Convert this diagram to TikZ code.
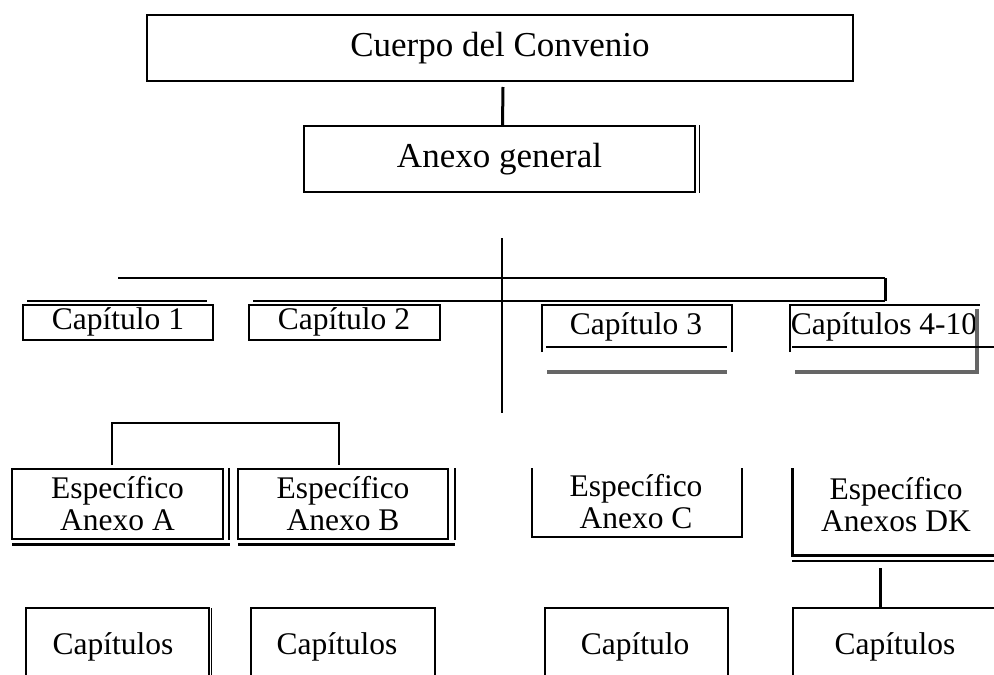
\documentclass[tikz,border=0pt]{standalone}
\usepackage{fontspec}
\setmainfont{Liberation Serif}
\usepackage{tikz}

\begin{document}
\begin{tikzpicture}[x=1pt,y=-1pt,
box/.style={draw,line width=2pt},
frame/.style={line width=2pt},
heavy/.style={line width=3pt},
shade/.style={line width=3.5pt,black!60}]
\tikzstyle{every node}=[inner sep=0pt,align=center,font=\fontsize{31.5}{32}\selectfont]
\useasboundingbox (0,0) rectangle (994,675);

\node[box,minimum width=706pt,minimum height=66pt,font=\fontsize{35}{36}\selectfont] (cuerpo) at (500,48) {Cuerpo del Convenio};
\node[box,minimum width=391pt,minimum height=66pt,font=\fontsize{35}{36}\selectfont] (general) at (499.5,159) {Anexo general};
\draw[heavy] ([xshift=3pt,yshift=-5pt]cuerpo.south) -- ([xshift=3pt]general.north);
\draw[line width=0.6pt] ([xshift=3pt]general.north east) -- ([xshift=3pt]general.south east);

\node[box,minimum width=190pt,minimum height=35pt] (cap1) at (118,322) {Cap\'{\i}tulo 1};
\node[box,minimum width=191pt,minimum height=35pt] (cap2) at (344,322) {Cap\'{\i}tulo 2};
\node (cap3) at (636,327) {Cap\'{\i}tulo 3};
\node (cap4) at (884,327) {Cap\'{\i}tulos 4-10};

\coordinate (hubtop) at (502,238);
\coordinate (hubbot) at (502,413);
\draw[frame] (118,278) -- (885,278);
\draw[heavy] (885,278) -- (885,301);
\draw[frame] (27,301) -- (207,301);
\draw[frame] (253,301) -- (885,301);
\draw[line width=2.2pt] (hubtop) -- (hubbot);

\draw[shade] (547,372) -- (727,372);
\draw[frame] (542,352) -- (542,305) -- (732,305) -- (732,352);
\draw[line width=1.5pt] (546,347) -- (727,347);
\draw[shade] (977,309) -- (977,372) -- (795,372);
\draw[frame] (790,352) -- (790,305) -- (980,305);
\draw[line width=1.5pt] (792,347) -- (994,347);

\draw[frame] (112,465) -- (112,423) -- (339,423) -- (339,465);
\node[box,minimum width=211pt,minimum height=70pt] (espa) at (117.5,504) {Espec\'{\i}fico\\Anexo A};
\node[box,minimum width=210pt,minimum height=70pt] (espb) at (343,504) {Espec\'{\i}fico\\Anexo B};
\draw[line width=1.4pt] ([xshift=5pt]espa.north east) -- ([xshift=5pt]espa.south east);
\draw[heavy] (12,544) -- (230,544);
\draw[line width=1.4pt] ([xshift=6pt]espb.north east) -- ([xshift=6pt]espb.south east);
\draw[heavy] (238,544) -- (455,544);

\node (espc) at (636,502) {Espec\'{\i}fico\\Anexo C};
\draw[frame] (532,468) -- (532,537) -- (742,537) -- (742,468);
\node (espdk) at (896,505) {Espec\'{\i}fico\\Anexos DK};
\draw[heavy] (792,468) -- (792,555) -- (994,555);
\draw[line width=2pt] (792,561) -- (994,561);
\coordinate (dkout) at (880,568);
\coordinate (dkin) at (880,608);
\draw[heavy] (dkout) -- (dkin);

\node (capsa) at (113,647) {Cap\'{\i}tulos};
\node (capsb) at (337,647) {Cap\'{\i}tulos};
\node (capc) at (635,647) {Cap\'{\i}tulo};
\node (capsdk) at (895,647) {Cap\'{\i}tulos};
\draw[frame] (26,675) -- (26,608) -- (209,608) -- (209,675);
\draw[line width=0.6pt] (211.5,608) -- (211.5,675);
\draw[frame] (251,675) -- (251,608) -- (435,608) -- (435,675);
\draw[frame] (545,675) -- (545,608) -- (728,608) -- (728,675);
\draw[frame] (793,675) -- (793,608) -- (994,608);
\end{tikzpicture}
\end{document}
